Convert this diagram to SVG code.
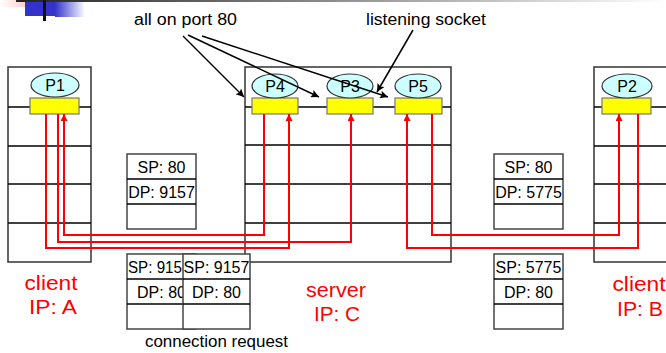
<svg xmlns="http://www.w3.org/2000/svg" width="666" height="353" viewBox="0 0 666 353">
<defs>
<linearGradient id="gBar" x1="0" x2="1" y1="0" y2="0"><stop offset="0" stop-color="#222"/><stop offset="0.85" stop-color="#ddd"/><stop offset="1" stop-color="#fff"/></linearGradient>
<linearGradient id="gBlue" x1="0" x2="1" y1="0" y2="0"><stop offset="0" stop-color="#3333cc"/><stop offset="1" stop-color="#fff"/></linearGradient>
<linearGradient id="gPink" x1="0" x2="1" y1="0" y2="0"><stop offset="0" stop-color="#fff"/><stop offset="1" stop-color="#ffb8b8"/></linearGradient>
<clipPath id="clipPk2"><rect x="127" y="254" width="56" height="75"/></clipPath>
<marker id="ar" viewBox="0 0 10 10" refX="10" refY="5" markerWidth="8" markerHeight="7" markerUnits="userSpaceOnUse" orient="auto"><path d="M0,0 L10,5 L0,10 z" fill="#ff0000"/></marker>
<marker id="ab" viewBox="0 0 10 10" refX="10" refY="5" markerWidth="11" markerHeight="8" markerUnits="userSpaceOnUse" orient="auto"><path d="M0,0 L10,5 L0,10 L2,5 z" fill="#000"/></marker>
</defs>
<style>
.box{fill:#fff;stroke:#333;stroke-width:1.5}
.ln{stroke:#000;stroke-width:1.5}
.sock{fill:#ffff00;stroke:#777;stroke-width:1.2}
.proc{fill:#ccffff;stroke:#333;stroke-width:1.2}
.pt{font-family:"Liberation Sans",Arial,sans-serif;font-size:16px;fill:#000;text-anchor:middle}
.pk{fill:#fff;stroke:#444;stroke-width:1.5}
.red{fill:none;stroke:#ff0000;stroke-width:2}
.blk{fill:none;stroke:#000;stroke-width:1.5}
.lab{font-family:"Liberation Sans",Arial,sans-serif;font-size:20px;fill:#ff0000;text-anchor:middle}
.note{font-family:"Liberation Sans",Arial,sans-serif;font-size:16px;fill:#000}
</style>
<g id="decor">
<rect x="0" y="0" width="37" height="7" fill="url(#gPink)"/>
<rect x="16" y="0" width="650" height="2" fill="url(#gBar)"/>
<rect x="25" y="2" width="30" height="14" fill="#3333cc"/>
<rect x="55" y="2" width="30" height="15" fill="url(#gBlue)"/>
<rect x="43" y="0" width="3" height="21" fill="#111"/>
</g>
<g id="clientA">
<rect class="box" x="8" y="67" width="83" height="195"/>
<line class="ln" x1="8" y1="107" x2="91" y2="107"/>
<line class="ln" x1="8" y1="146" x2="91" y2="146"/>
<line class="ln" x1="8" y1="184" x2="91" y2="184"/>
<line class="ln" x1="8" y1="223" x2="91" y2="223"/>
<rect class="sock" x="30" y="98" width="49" height="16"/>
<ellipse class="proc" cx="55" cy="85" rx="24" ry="12"/>
<text class="pt" x="55" y="91">P1</text>
<text class="lab" x="51" y="290" textLength="53" lengthAdjust="spacingAndGlyphs">client</text>
<text class="lab" x="53" y="314" textLength="48" lengthAdjust="spacingAndGlyphs">IP: A</text>
</g>
<g id="server">
<rect class="box" x="245" y="67" width="206" height="195"/>
<line class="ln" x1="245" y1="107" x2="451" y2="107"/>
<line class="ln" x1="245" y1="145" x2="451" y2="145"/>
<line class="ln" x1="245" y1="184" x2="451" y2="184"/>
<line class="ln" x1="245" y1="223" x2="451" y2="223"/>
<rect class="sock" x="252" y="98" width="46" height="16"/>
<rect class="sock" x="327" y="98" width="46" height="16"/>
<rect class="sock" x="395" y="98" width="47" height="16"/>
<ellipse class="proc" cx="275" cy="86" rx="23" ry="12"/>
<text class="pt" x="275" y="92">P4</text>
<ellipse class="proc" cx="350" cy="86" rx="23" ry="12"/>
<text class="pt" x="350" y="92">P3</text>
<ellipse class="proc" cx="418" cy="86" rx="23" ry="12"/>
<text class="pt" x="418" y="92">P5</text>
<text class="lab" x="336" y="297" textLength="60" lengthAdjust="spacingAndGlyphs">server</text>
<text class="lab" x="337" y="321" textLength="46" lengthAdjust="spacingAndGlyphs">IP: C</text>
</g>
<g id="clientB">
<rect class="box" x="594" y="67" width="80" height="195"/>
<line class="ln" x1="594" y1="107" x2="666" y2="107"/>
<line class="ln" x1="594" y1="146" x2="666" y2="146"/>
<line class="ln" x1="594" y1="184" x2="666" y2="184"/>
<line class="ln" x1="594" y1="223" x2="666" y2="223"/>
<rect class="sock" x="602" y="98" width="49" height="16"/>
<ellipse class="proc" cx="627" cy="86" rx="25" ry="12"/>
<text class="pt" x="627" y="92">P2</text>
<text class="lab" x="639" y="291" textLength="53" lengthAdjust="spacingAndGlyphs">client</text>
<text class="lab" x="640" y="316" textLength="46" lengthAdjust="spacingAndGlyphs">IP: B</text>
</g>
<g id="connectors">
<path class="red" d="M46,114 V248 H289 V114" marker-end="url(#ar)"/>
<path class="red" d="M58,114 V242 H351 V114" marker-end="url(#ar)"/>
<path class="red" d="M264,114 V235 H64 V114" marker-end="url(#ar)"/>
<path class="red" d="M638,114 V248 H407 V114" marker-end="url(#ar)"/>
<path class="red" d="M432,114 V235 H619 V114" marker-end="url(#ar)"/>
<line class="blk" x1="183" y1="36" x2="244" y2="97" marker-end="url(#ab)"/>
<line class="blk" x1="188" y1="35" x2="319" y2="97" marker-end="url(#ab)"/>
<line class="blk" x1="202" y1="36" x2="388" y2="97" marker-end="url(#ab)"/>
<line class="blk" x1="413" y1="30" x2="377" y2="92" marker-end="url(#ab)"/>
</g>
<g id="pkt1">
<rect class="pk" x="127" y="154" width="69" height="75"/>
<line class="ln" x1="127" y1="179" x2="196" y2="179"/>
<line class="ln" x1="127" y1="204" x2="196" y2="204"/>
<text class="pt" x="161.5" y="173">SP: 80</text>
<text class="pt" x="161.5" y="198">DP: 9157</text>
</g>
<g id="pkt2">
<rect class="pk" x="127" y="254" width="69" height="75"/>
<line class="ln" x1="127" y1="279" x2="196" y2="279"/>
<line class="ln" x1="127" y1="304" x2="196" y2="304"/>
<g clip-path="url(#clipPk2)">
<text class="pt" x="128" y="273" style="text-anchor:start" textLength="54" lengthAdjust="spacingAndGlyphs">SP: 915</text>
<text class="pt" x="161.5" y="298">DP: 80</text>
</g>
</g>
<g id="pkt3">
<rect class="pk" x="183" y="254" width="67" height="75"/>
<line class="ln" x1="183" y1="279" x2="250" y2="279"/>
<line class="ln" x1="183" y1="304" x2="250" y2="304"/>
<text class="pt" x="216.5" y="273">SP: 9157</text>
<text class="pt" x="216.5" y="298">DP: 80</text>
</g>
<g id="pkt4">
<rect class="pk" x="494" y="154" width="69" height="75"/>
<line class="ln" x1="494" y1="179" x2="563" y2="179"/>
<line class="ln" x1="494" y1="204" x2="563" y2="204"/>
<text class="pt" x="528.5" y="173">SP: 80</text>
<text class="pt" x="528.5" y="198">DP: 5775</text>
</g>
<g id="pkt5">
<rect class="pk" x="494" y="254" width="69" height="75"/>
<line class="ln" x1="494" y1="279" x2="563" y2="279"/>
<line class="ln" x1="494" y1="304" x2="563" y2="304"/>
<text class="pt" x="528.5" y="273">SP: 5775</text>
<text class="pt" x="528.5" y="298">DP: 80</text>
</g>
<g id="notes">
<text class="note" x="134" y="25" textLength="103" lengthAdjust="spacingAndGlyphs">all on port 80</text>
<text class="note" x="366" y="25" textLength="120" lengthAdjust="spacingAndGlyphs">listening socket</text>
<text class="note" x="145" y="347" textLength="143" lengthAdjust="spacingAndGlyphs">connection request</text>
</g>
</svg>
